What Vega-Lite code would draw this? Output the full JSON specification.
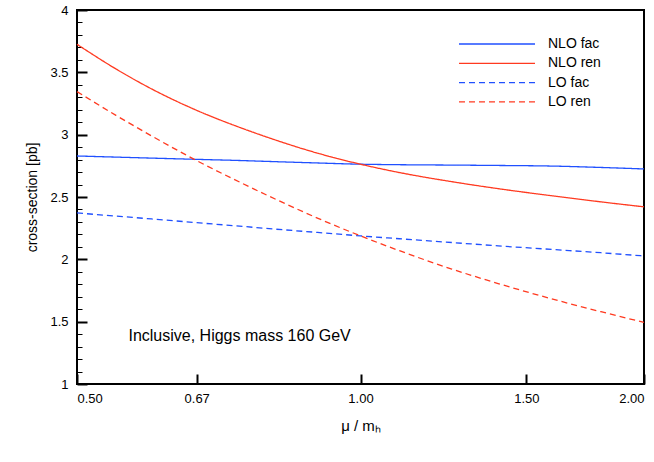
{
  "$schema": "https://vega.github.io/schema/vega-lite/v6.json",
  "width": 567,
  "height": 374,
  "autosize": {"type": "none"},
  "padding": {"left": 77, "top": 10, "right": 10, "bottom": 78},
  "config": {
    "font": "Liberation Sans",
    "view": {"stroke": "black", "strokeWidth": 2}
  },
  "resolve": {"scale": {"y": "shared"}, "axis": {"y": "independent"}},
  "layer": [
    {
      "data": {
        "values": [
          {"series": "NLO fac", "mu": 0.5, "xs": 2.829},
          {"series": "NLO fac", "mu": 0.55, "xs": 2.82},
          {"series": "NLO fac", "mu": 0.6, "xs": 2.812},
          {"series": "NLO fac", "mu": 0.67, "xs": 2.802},
          {"series": "NLO fac", "mu": 0.75, "xs": 2.792},
          {"series": "NLO fac", "mu": 0.8, "xs": 2.785},
          {"series": "NLO fac", "mu": 0.9, "xs": 2.773},
          {"series": "NLO fac", "mu": 1.0, "xs": 2.763},
          {"series": "NLO fac", "mu": 1.1, "xs": 2.759},
          {"series": "NLO fac", "mu": 1.25, "xs": 2.756},
          {"series": "NLO fac", "mu": 1.4, "xs": 2.753},
          {"series": "NLO fac", "mu": 1.6, "xs": 2.748},
          {"series": "NLO fac", "mu": 1.8, "xs": 2.737},
          {"series": "NLO fac", "mu": 2.0, "xs": 2.725},
          {"series": "NLO ren", "mu": 0.5, "xs": 3.725},
          {"series": "NLO ren", "mu": 0.55, "xs": 3.527},
          {"series": "NLO ren", "mu": 0.6, "xs": 3.367},
          {"series": "NLO ren", "mu": 0.67, "xs": 3.195},
          {"series": "NLO ren", "mu": 0.75, "xs": 3.049},
          {"series": "NLO ren", "mu": 0.8, "xs": 2.974},
          {"series": "NLO ren", "mu": 0.9, "xs": 2.852},
          {"series": "NLO ren", "mu": 1.0, "xs": 2.763},
          {"series": "NLO ren", "mu": 1.1, "xs": 2.696},
          {"series": "NLO ren", "mu": 1.25, "xs": 2.623},
          {"series": "NLO ren", "mu": 1.4, "xs": 2.567},
          {"series": "NLO ren", "mu": 1.6, "xs": 2.509},
          {"series": "NLO ren", "mu": 1.8, "xs": 2.461},
          {"series": "NLO ren", "mu": 2.0, "xs": 2.421},
          {"series": "LO fac", "mu": 0.5, "xs": 2.372},
          {"series": "LO fac", "mu": 0.55, "xs": 2.347},
          {"series": "LO fac", "mu": 0.6, "xs": 2.324},
          {"series": "LO fac", "mu": 0.67, "xs": 2.294},
          {"series": "LO fac", "mu": 0.75, "xs": 2.264},
          {"series": "LO fac", "mu": 0.8, "xs": 2.246},
          {"series": "LO fac", "mu": 0.9, "xs": 2.216},
          {"series": "LO fac", "mu": 1.0, "xs": 2.188},
          {"series": "LO fac", "mu": 1.1, "xs": 2.165},
          {"series": "LO fac", "mu": 1.25, "xs": 2.135},
          {"series": "LO fac", "mu": 1.4, "xs": 2.108},
          {"series": "LO fac", "mu": 1.6, "xs": 2.079},
          {"series": "LO fac", "mu": 1.8, "xs": 2.053},
          {"series": "LO fac", "mu": 2.0, "xs": 2.027},
          {"series": "LO ren", "mu": 0.5, "xs": 3.345},
          {"series": "LO ren", "mu": 0.55, "xs": 3.155},
          {"series": "LO ren", "mu": 0.6, "xs": 2.99},
          {"series": "LO ren", "mu": 0.67, "xs": 2.792},
          {"series": "LO ren", "mu": 0.75, "xs": 2.607},
          {"series": "LO ren", "mu": 0.8, "xs": 2.506},
          {"series": "LO ren", "mu": 0.9, "xs": 2.331},
          {"series": "LO ren", "mu": 1.0, "xs": 2.188},
          {"series": "LO ren", "mu": 1.1, "xs": 2.069},
          {"series": "LO ren", "mu": 1.25, "xs": 1.922},
          {"series": "LO ren", "mu": 1.4, "xs": 1.806},
          {"series": "LO ren", "mu": 1.6, "xs": 1.681},
          {"series": "LO ren", "mu": 1.8, "xs": 1.58},
          {"series": "LO ren", "mu": 2.0, "xs": 1.494}
        ]
      },
      "mark": {"type": "line", "interpolate": "monotone", "strokeWidth": 1.3},
      "encoding": {
        "x": {
          "field": "mu",
          "type": "quantitative",
          "scale": {"type": "log", "domain": [0.5, 2], "nice": false},
          "axis": {
            "values": [0.5, 0.67, 1, 1.5, 2],
            "format": ".2f",
            "labelFlush": true,
            "domain": false,
            "grid": false,
            "ticks": true,
            "offset": -10,
            "tickSize": 10,
            "tickWidth": 2,
            "tickColor": "#000000",
            "labelColor": "#000000",
            "labelFontSize": 13,
            "labelPadding": 8,
            "title": "μ / mₕ",
            "titleColor": "#000000",
            "titleFontWeight": "normal",
            "titleFontSize": 15,
            "titleX": 283.5,
            "titleY": 56,
            "titleBaseline": "alphabetic"
          }
        },
        "y": {
          "field": "xs",
          "type": "quantitative",
          "scale": {"domain": [1, 4], "nice": false},
          "axis": {
            "orient": "left",
            "values": [1, 1.5, 2, 2.5, 3, 3.5, 4],
            "format": "~g",
            "labelOverlap": false,
            "domain": false,
            "grid": false,
            "ticks": true,
            "offset": -10,
            "tickSize": 10,
            "tickWidth": 2,
            "tickColor": "#000000",
            "labelColor": "#000000",
            "labelFontSize": 13,
            "labelPadding": 9,
            "title": "cross-section [pb]",
            "titleColor": "#000000",
            "titleFontWeight": "normal",
            "titleFontSize": 14,
            "titleX": -55,
            "titleY": 187,
            "titleBaseline": "middle"
          }
        },
        "color": {
          "field": "series",
          "type": "nominal",
          "scale": {
            "domain": ["NLO fac", "NLO ren", "LO fac", "LO ren"],
            "range": ["#2050ff", "#ff3a20", "#2050ff", "#ff3a20"]
          },
          "legend": {
            "title": null,
            "orient": "none",
            "legendX": 381,
            "legendY": 23.5,
            "padding": 0,
            "rowPadding": 1.3,
            "symbolType": "M-1,0H7",
            "symbolSize": 361,
            "symbolStrokeWidth": 1.3,
            "labelOffset": 69,
            "labelFontSize": 14,
            "labelColor": "black"
          }
        },
        "strokeDash": {
          "field": "series",
          "type": "nominal",
          "scale": {
            "domain": ["NLO fac", "NLO ren", "LO fac", "LO ren"],
            "range": [[1, 0], [1, 0], [6, 4], [6, 4]]
          },
          "legend": {
            "title": null,
            "orient": "none",
            "legendX": 381,
            "legendY": 23.5,
            "padding": 0,
            "rowPadding": 1.3,
            "symbolType": "M-1,0H7",
            "symbolSize": 361,
            "symbolStrokeWidth": 1.3,
            "labelOffset": 69,
            "labelFontSize": 14,
            "labelColor": "black"
          }
        }
      }
    },
    {
      "data": {"values": [{"mu": 0.567, "xs": 1.386, "note": "Inclusive, Higgs mass 160 GeV"}]},
      "mark": {"type": "text", "align": "left", "baseline": "middle", "fontSize": 16, "color": "black"},
      "encoding": {
        "x": {"field": "mu", "type": "quantitative"},
        "y": {
          "field": "xs",
          "type": "quantitative",
          "axis": {
            "orient": "left",
            "values": [1.1, 1.2, 1.3, 1.4, 1.6, 1.7, 1.8, 1.9, 2.1, 2.2, 2.3, 2.4, 2.6, 2.7, 2.8, 2.9, 3.1, 3.2, 3.3, 3.4, 3.6, 3.7, 3.8, 3.9],
            "labels": false,
            "title": null,
            "domain": false,
            "grid": false,
            "ticks": true,
            "offset": -5,
            "tickSize": 5,
            "tickWidth": 1,
            "tickColor": "#000000"
          }
        },
        "text": {"field": "note"}
      }
    }
  ]
}
